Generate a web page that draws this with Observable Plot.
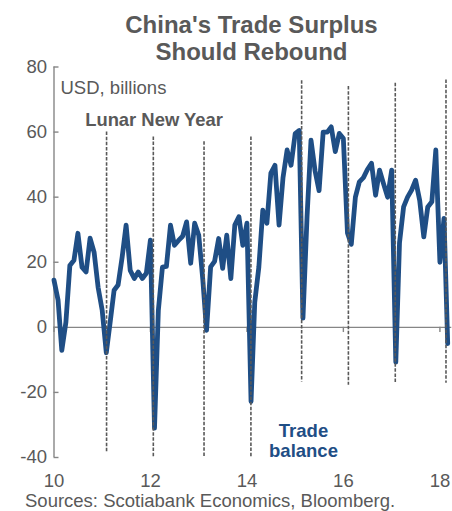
<!DOCTYPE html>
<html><head><meta charset="utf-8">
<script src="https://cdn.jsdelivr.net/npm/d3@7"></script>
<script src="https://cdn.jsdelivr.net/npm/@observablehq/plot@0.6"></script>
<style>
body{margin:0;background:#fff;font-family:Arial,"Liberation Sans",sans-serif;}
#wrap{width:452px;height:511px;position:relative;overflow:hidden;background:#fff;}
#title{position:absolute;left:0;top:11px;width:452px;padding-left:51px;box-sizing:border-box;text-align:center;font-weight:bold;font-size:24px;line-height:27px;color:#595959;}
#chart{position:absolute;left:0;top:46px;}
#caption{position:absolute;left:25px;top:490px;font-size:18.5px;line-height:21px;color:#595959;white-space:nowrap;}
</style></head>
<body>
<div id="wrap">
  <div id="title">China's Trade Surplus<br>Should Rebound</div>
  <div id="chart"></div>
  <div id="caption">Sources: Scotiabank Economics, Bloomberg.</div>
</div>
<script>
// Monthly trade balance, USD billions, Jan 2010 – Mar 2018
const tradeBalance = [
  14.5, 8.3, -7.1, 1.5, 19, 20.6, 28.9, 18.5, 17, 27.4, 23, 12.3,      // 2010
  5.2, -7.8, 1.2, 11.4, 13, 21.6, 31.4, 17.5, 15, 17, 15, 16.6,        // 2011
  26.8, -31, 5.2, 18.5, 18.7, 31.4, 25.2, 26.7, 28, 32.4, 19.7, 32,    // 2012
  28.3, 14.5, -0.9, 18.6, 20.3, 27.3, 18.1, 28.3, 15, 31.4, 34, 25.2,  // 2013
  32, -22.8, 7.7, 18.5, 36, 32, 47.4, 49.8, 31.4, 46, 54.5, 49.8,      // 2014
  59.5, 60.5, 2.8, 34, 57.5, 48, 42, 60, 60, 61.6, 54, 59.6,           // 2015
  58, 29, 25.5, 40, 44.7, 46, 48.5, 50.4, 40.6, 48.3, 44, 40,          // 2016
  48.3, -10.7, 26, 37, 40, 42.2, 45.2, 39, 27.8, 37, 38.6, 54.5,       // 2017
  20, 33.5, -5                                                         // 2018
];
const startMonth = new Date(Date.UTC(2010, 0, 1));
const months = d3.utcMonth.range(startMonth, d3.utcMonth.offset(startMonth, tradeBalance.length));

// Lunar New Year markers
const lunarNewYear = ["2011-02-03","2012-01-23","2013-02-10","2014-01-31","2015-02-19","2016-02-08","2017-01-28","2018-02-16"];
const lnyTop =    [60, 58.5, 57, 58.5, 75.8, 74, 75, 76];
const lnyBottom = [-38.8, -40, -40, -40, -16.8, -17.8, -17.2, -17.2];

const yTicks = [-40, -20, 0, 20, 40, 60, 80];
const xTickYears = [2010, 2012, 2014, 2016, 2018];

const data = months.map((m, i) => ({date: m, value: tradeBalance[i]}));
const lny = lunarNewYear.map((d, i) => ({date: new Date(d + "T00:00:00Z"), top: lnyTop[i], bottom: lnyBottom[i]}));
const xTicks = xTickYears.map(y => new Date(Date.UTC(y, 0, 1)));

const W = 452, H = 447, ML = 53.5, MR = 0.7, MT = 20.5, MB = 36;
const gray = "#595959", axisGray = "#868686", blue = "#1f4e85";
const xDomain = [startMonth, new Date(Date.UTC(2018, 3, 1))];

const chart = Plot.plot({
  width: W, height: H,
  marginLeft: ML, marginRight: MR, marginTop: MT, marginBottom: MB,
  style: {fontFamily: "Arial, 'Liberation Sans', sans-serif", background: "transparent", overflow: "visible"},
  x: {type: "utc", domain: xDomain},
  y: {domain: [-40, 80]},
  marks: [
    Plot.ruleY([0], {stroke: axisGray, strokeWidth: 1.4}),
    Plot.ruleX([xDomain[0]], {stroke: axisGray, strokeWidth: 1.4}),
    Plot.ruleY(yTicks, {stroke: axisGray, strokeWidth: 1.4, insetRight: W - ML - MR - 5}),
    Plot.ruleX(xTicks, {y1: 0, y2: -1.6, stroke: axisGray, strokeWidth: 1.4}),
    Plot.axisY({ticks: yTicks, tickSize: 0, tickPadding: 7, fontSize: 18.5, color: gray, label: null, tickFormat: d => String(d)}),
    Plot.axisX({ticks: xTicks, tickSize: 0, tickPadding: 16, fontSize: 18.5, color: gray, label: null, tickFormat: d3.utcFormat("%y")}),
    Plot.line(data, {x: "date", y: "value", stroke: blue, strokeWidth: 4.8, strokeLinejoin: "round", strokeLinecap: "round"}),
    Plot.ruleX(lny, {x: "date", y1: "top", y2: "bottom", stroke: gray, strokeWidth: 1.6, strokeDasharray: "3.5,1.6"}),
    Plot.text(["USD, billions"], {frameAnchor: "top-left", dx: 6.5, dy: 26.5, lineAnchor: "bottom", textAnchor: "start", fontSize: 18.5, fill: gray}),
    Plot.text(["Lunar New Year"], {frameAnchor: "top-left", dx: 100, dy: 58.5, lineAnchor: "bottom", textAnchor: "middle", fontSize: 18.4, fontWeight: "bold", fill: gray}),
    Plot.text(["Trade\nbalance"], {frameAnchor: "top-left", dx: 249.5, dy: 390.2, lineAnchor: "bottom", textAnchor: "middle", fontSize: 18.5, lineHeight: 1.08, fontWeight: "bold", fill: blue})
  ]
});
document.getElementById("chart").appendChild(chart);
</script>
</body></html>
